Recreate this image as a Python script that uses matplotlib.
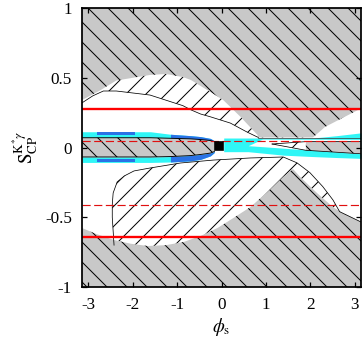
import numpy as np
import matplotlib
matplotlib.use("Agg")
import matplotlib.pyplot as plt

plt.rcParams['font.family'] = ['Liberation Serif', 'DejaVu Serif']
plt.rcParams['mathtext.fontset'] = 'stix'
plt.rcParams['axes.unicode_minus'] = False
plt.rcParams['hatch.color'] = 'black'
plt.rcParams['hatch.linewidth'] = 0.6

PI = np.pi
DPI = 120

# upper gray region, lower edge
gup_x = [-PI, -2.73, -2.37, -1.61, -1.25, -0.87, -0.69, -0.25, 0.04, 0.43, 0.81, 0.83, 2.06, 2.33, PI]
gup_y = [0.34, 0.41, 0.48, 0.52, 0.527, 0.505, 0.484, 0.398, 0.34, 0.219, 0.09, 0.072, 0.072, 0.147, 0.28]

# upper hatched (white) region, lower edge
lup_x = [-PI, -2.9, -2.66, -2.37, -1.61, -0.87, -0.69, -0.47, -0.25, 0.2, 0.58, 0.83]
lup_y = [0.32, 0.37, 0.405, 0.405, 0.376, 0.30, 0.27, 0.24, 0.22, 0.175, 0.11, 0.072]

# lower gray region, upper edge
glo_x = [-PI, -2.82, -2.42, -2.04, -1.66, -1.25, -0.85, -0.47, -0.09, 0.27, 0.65, 1.03,
         1.39, 1.61, 1.77, 2.15, 2.51, 2.73, PI]
glo_y = [-0.577, -0.62, -0.663, -0.69, -0.706, -0.70, -0.677, -0.634, -0.577, -0.505, -0.427, -0.32,
         -0.21, -0.154, -0.21, -0.326, -0.427, -0.47, -0.534]

# lower hatched (white) region, upper edge
llo_x = [-2.42, -2.46, -2.46, -2.44, -2.35, -2.19, -1.97, -1.61, -0.92, -0.18, 0.65, 1.39,
         1.70, 1.99, 2.28, 2.51, 2.66, PI]
llo_y = [-0.70, -0.50, -0.41, -0.326, -0.247, -0.204, -0.168, -0.147, -0.111, -0.09, -0.075, -0.068,
         -0.11, -0.18, -0.28, -0.376, -0.46, -0.534]

# central band left of the best-fit point
band_x = [-PI, -1.6, -1.15, -0.7, -0.47, -0.25, -0.16]
band_top = [0.07, 0.07, 0.066, 0.062, 0.057, 0.05, 0.042]
band_bot = [-0.068, -0.068, -0.065, -0.058, -0.05, -0.04, -0.029]
cyan_top = [0.113, 0.113, 0.095, 0.085, 0.078, 0.065, 0.048]
cyan_bot = [-0.107, -0.107, -0.104, -0.096, -0.085, -0.06, -0.035]

blue1_x = [-2.8, -1.95]
blue2_x = [-1.15, -0.7, -0.47, -0.25, -0.16]
blue2_up = [0.095, 0.085, 0.078, 0.065, 0.048]
blue2_dn = [-0.104, -0.096, -0.085, -0.06, -0.035]

# cyan region right of the best-fit point
cr_x = [0.05, 0.6, 0.92, 1.4, 2.06, 2.6, PI]
cr_top = [0.068, 0.068, 0.068, 0.068, 0.068, 0.085, 0.105]
cr_bot = [-0.03, -0.03, -0.04, -0.055, -0.065, -0.072, -0.078]

wedge_x = [0.6, 0.92, PI]
wedge_top = [0.013, 0.06, 0.058]
wedge_bot = [0.013, 0.006, -0.045]

hw_x = [1.14, 1.9]
hw_top = [0.025, 0.042]
hw_bot = [0.025, -0.02]
gw_x = [1.9, PI]
gw_top = [0.042, 0.042]
gw_bot = [-0.02, -0.045]

red_lines = [0.274, -0.64]
red_dashed = [0.047, -0.41]
best_fit = (-0.05, 0.008)

xticks = [-3, -2, -1, 0, 1, 2, 3]
yticks = [-1, -0.5, 0, 0.5, 1]
ytick_labels = ['-1', '-0.5', '0', '0.5', '1']

gray = '#c8c8c8'
cyan = '#30f6f6'
blue = '#2a72e6'

fig = plt.figure(figsize=(362 / DPI, 338 / DPI), dpi=DPI)
ax = fig.add_axes([82 / 362, 1 - 287 / 338, 279 / 362, 279 / 338])

# hatched white regions
up_x = lup_x + gup_x[12:]
up_y = lup_y + gup_y[12:]
ax.fill_between(up_x, up_y, 1, facecolor='white', edgecolor='black', hatch='//', linewidth=0)
ax.fill(llo_x + [PI, -2.42], llo_y + [-1, -1], facecolor='white', edgecolor='black',
        hatch='//', linewidth=0)

# gray regions
ax.fill_between(gup_x, gup_y, 1, facecolor=gray, edgecolor='black', hatch='\\\\', linewidth=0)
ax.fill_between(glo_x, -1, glo_y, facecolor=gray, edgecolor='black', hatch='\\\\', linewidth=0)

# boundary curves
ax.plot(lup_x, lup_y, color='black', lw=0.45)
ax.plot(llo_x, llo_y, color='black', lw=0.45)

# central band
ax.fill_between(band_x, band_top, cyan_top, color=cyan, lw=0)
ax.fill_between(band_x, cyan_bot, band_bot, color=cyan, lw=0)
ax.fill_between(blue1_x, 0.09, 0.113, color=blue, lw=0)
ax.fill_between(blue1_x, -0.107, -0.086, color=blue, lw=0)
ax.fill_between(blue2_x, band_top[2:], blue2_up, color=blue, lw=0)
ax.fill_between(blue2_x, blue2_dn, band_bot[2:], color=blue, lw=0)
ax.fill_between(band_x, band_bot, band_top, facecolor=gray, edgecolor='black', hatch='\\\\', linewidth=0)
ax.plot(band_x, band_top, color='black', lw=0.55)
ax.plot(band_x, band_bot, color='black', lw=0.55)

ax.fill_between(cr_x, cr_bot, cr_top, color=cyan, lw=0)
ax.fill_between(wedge_x, wedge_bot, wedge_top, color='white', lw=0)
ax.fill_between(hw_x, hw_bot, hw_top, facecolor='white', edgecolor='black', hatch='//', linewidth=0)
ax.fill_between(gw_x, gw_bot, gw_top, facecolor=gray, edgecolor='black', hatch='\\\\', linewidth=0)
ax.plot(hw_x + gw_x[1:], hw_top + gw_top[1:], color='black', lw=0.45)
ax.plot(hw_x + gw_x[1:], hw_bot + gw_bot[1:], color='black', lw=0.45)
ax.plot([0.83, PI], [0.068, 0.068], color='#404040', lw=0.45)

# experimental values
for y in red_lines:
    ax.axhline(y, color='red', lw=1.4)
for y in red_dashed:
    ax.axhline(y, color='#e01010', lw=0.7, dashes=(7, 3))

ax.plot(best_fit[0], best_fit[1], 's', color='black', ms=5.3)

ax.set_xlim(-PI, PI)
ax.set_ylim(-1, 1)
ax.set_xticks(xticks)
ax.set_xticklabels([str(t) for t in xticks])
ax.set_yticks(yticks)
ax.set_yticklabels(ytick_labels)
ax.tick_params(direction='in', top=True, right=True, length=3, width=0.75, labelsize=10.2, pad=6)
for s in ax.spines.values():
    s.set_linewidth(1.05)

ax.set_xlabel(r'$\phi_{\mathrm{s}}$', fontsize=11.3, labelpad=1.5)
ax.set_ylabel(r'$\mathrm{S}_{\mathrm{CP}}^{\mathrm{K}^{*}\gamma}$', fontsize=11.3, labelpad=3)

fig.savefig('out.png', dpi=DPI)
